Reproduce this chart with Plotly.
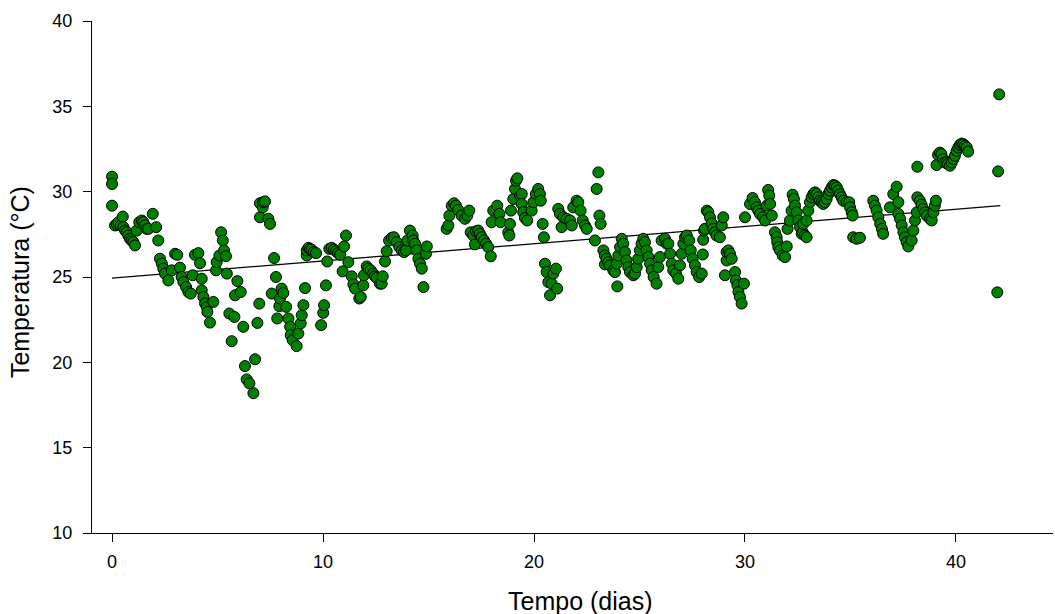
import plotly.graph_objects as go

# Data
dia = [
    0.00, 0.00, 0.00, 0.14, 0.22, 0.30, 0.41, 0.51, 0.54, 0.62, 0.70, 0.77, 0.85, 0.93, 1.01, 1.09,
    1.17, 1.29, 1.41, 1.48, 1.56, 1.64, 1.72, 1.93, 2.09, 2.19, 2.27, 2.36, 2.43, 2.51, 2.67, 2.83,
    2.99, 3.09, 3.22, 3.30, 3.38, 3.51, 3.62, 3.73, 3.82, 3.93, 4.09, 4.17, 4.25, 4.25, 4.33, 4.41,
    4.49, 4.52, 4.64, 4.80, 4.93, 4.96, 5.09, 5.17, 5.25, 5.31, 5.40, 5.44, 5.56, 5.67, 5.80, 5.83,
    5.94, 6.10, 6.22, 6.30, 6.38, 6.51, 6.70, 6.78, 6.89, 6.98, 7.01, 7.01, 7.14, 7.17, 7.25, 7.41,
    7.49, 7.57, 7.68, 7.77, 7.83, 7.93, 7.96, 8.04, 8.12, 8.25, 8.36, 8.44, 8.47, 8.56, 8.75, 8.83,
    8.94, 8.99, 9.07, 9.15, 9.23, 9.23, 9.31, 9.38, 9.46, 9.57, 9.67, 9.91, 10.01, 10.05, 10.14, 10.20,
    10.30, 10.41, 10.52, 10.62, 10.71, 10.81, 10.93, 11.00, 11.09, 11.20, 11.36, 11.44, 11.52, 11.72, 11.79, 11.91,
    11.94, 12.07, 12.15, 12.26, 12.38, 12.46, 12.54, 12.70, 12.78, 12.83, 12.94, 13.02, 13.13, 13.26, 13.36, 13.49,
    13.62, 13.73, 13.84, 13.93, 14.00, 14.12, 14.25, 14.28, 14.36, 14.44, 14.52, 14.60, 14.68, 14.76, 14.88, 14.92,
    15.86, 15.94, 15.99, 16.10, 16.21, 16.30, 16.41, 16.57, 16.73, 16.84, 16.93, 17.00, 17.12, 17.20, 17.25, 17.36,
    17.44, 17.52, 17.63, 17.73, 17.83, 17.95, 17.99, 18.07, 18.26, 18.36, 18.42, 18.78, 18.83, 18.86, 18.91, 19.02,
    19.10, 19.15, 19.21, 19.34, 19.42, 19.42, 19.49, 19.57, 19.68, 19.89, 19.97, 20.09, 20.20, 20.28, 20.32, 20.41,
    20.47, 20.52, 20.60, 20.68, 20.76, 20.84, 20.92, 21.04, 21.10, 21.15, 21.23, 21.31, 21.39, 21.55, 21.71, 21.79,
    21.86, 22.02, 22.10, 22.21, 22.31, 22.42, 22.50, 22.89, 22.97, 23.05, 23.10, 23.16, 23.29, 23.36, 23.36, 23.44,
    23.52, 23.60, 23.76, 23.84, 23.92, 23.95, 24.00, 24.08, 24.16, 24.23, 24.31, 24.39, 24.47, 24.55, 24.71, 24.79,
    24.87, 24.94, 25.02, 25.10, 25.18, 25.26, 25.34, 25.42, 25.50, 25.58, 25.67, 25.81, 25.89, 25.97, 26.05, 26.21,
    26.29, 26.37, 26.45, 26.53, 26.60, 26.73, 26.84, 26.92, 27.00, 27.08, 27.16, 27.24, 27.36, 27.43, 27.52, 27.63,
    27.71, 27.83, 27.95, 28.00, 28.02, 28.06, 28.10, 28.19, 28.26, 28.34, 28.42, 28.50, 28.58, 28.65, 28.81, 28.90,
    28.97, 29.05, 29.13, 29.13, 29.21, 29.29, 29.37, 29.53, 29.57, 29.64, 29.69, 29.76, 29.84, 29.95, 30.00, 30.24,
    30.36, 30.47, 30.55, 30.63, 30.71, 30.86, 30.95, 31.03, 31.10, 31.15, 31.19, 31.27, 31.42, 31.50, 31.53, 31.58,
    31.66, 31.79, 31.90, 31.98, 32.02, 32.13, 32.21, 32.26, 32.32, 32.37, 32.45, 32.53, 32.61, 32.69, 32.74, 32.76,
    32.84, 32.92, 32.92, 33.00, 33.08, 33.16, 33.24, 33.32, 33.40, 33.47, 33.55, 33.63, 33.71, 33.79, 33.87, 33.95,
    34.03, 34.11, 34.19, 34.27, 34.35, 34.42, 34.50, 34.58, 34.66, 34.82, 34.94, 34.98, 35.06, 35.10, 35.13, 35.29,
    35.45, 36.08, 36.16, 36.24, 36.32, 36.41, 36.49, 36.55, 36.87, 37.03, 37.19, 37.27, 37.27, 37.35, 37.43, 37.51,
    37.58, 37.66, 37.74, 37.90, 37.98, 38.06, 38.14, 38.17, 38.17, 38.29, 38.37, 38.45, 38.53, 38.61, 38.77, 38.85,
    38.93, 39.00, 39.05, 39.08, 39.15, 39.24, 39.31, 39.39, 39.46, 39.56, 39.62, 39.72, 39.80, 39.88, 39.95, 40.03,
    40.11, 40.19, 40.27, 40.35, 40.43, 40.51, 40.58, 41.96, 42.00, 42.05,
]

temp = [
    30.88, 30.45, 29.18, 28.02, 28.11, 28.21, 28.02, 28.54, 27.92, 27.72, 27.62, 27.43, 27.24, 27.14, 27.04, 26.85,
    27.72, 28.21, 28.31, 28.21, 28.02, 27.82, 27.82, 28.70, 27.92, 27.14, 26.07, 25.78, 25.49, 25.20, 24.80, 25.39,
    26.36, 26.30, 25.55, 25.00, 24.70, 24.41, 24.12, 24.03, 25.10, 26.30, 26.40, 25.81, 24.90, 24.22, 23.83, 23.44,
    23.25, 22.95, 22.33, 23.54, 25.39, 25.87, 26.26, 27.62, 27.14, 26.56, 26.22, 25.20, 22.86, 21.24, 22.66, 23.93,
    24.76, 24.12, 22.08, 19.78, 19.00, 18.77, 18.19, 20.18, 22.31, 23.44, 28.50, 29.32, 29.08, 29.38, 29.43, 28.41,
    28.11, 24.03, 26.11, 25.00, 22.57, 23.29, 23.74, 24.32, 24.06, 23.25, 22.57, 22.08, 21.59, 21.30, 20.95, 21.69,
    22.28, 22.76, 23.35, 24.35, 26.26, 26.56, 26.71, 26.65, 26.60, 26.46, 26.40, 22.18, 22.90, 23.35, 24.51, 25.91,
    26.65, 26.71, 26.60, 26.51, 26.40, 26.30, 25.33, 26.79, 27.43, 25.87, 25.04, 24.57, 24.32, 23.74, 23.83, 24.51,
    25.10, 25.62, 25.49, 25.39, 25.20, 25.04, 24.94, 24.61, 24.61, 25.04, 25.91, 26.51, 27.14, 27.30, 27.33, 27.04,
    26.75, 26.56, 26.46, 26.56, 27.14, 27.72, 27.43, 27.14, 26.95, 26.56, 26.07, 25.78, 25.49, 24.41, 26.36, 26.79,
    27.82, 28.02, 28.60, 29.18, 29.32, 29.18, 28.93, 28.60, 28.41, 28.60, 28.89, 27.62, 27.43, 26.91, 27.68, 27.72,
    27.53, 27.33, 27.14, 26.95, 26.75, 26.21, 28.21, 28.89, 29.18, 28.70, 28.21, 27.62, 27.43, 28.11, 28.89, 29.57,
    30.16, 30.64, 30.78, 29.77, 29.86, 29.28, 28.80, 28.46, 28.31, 28.89, 29.38, 29.86, 30.16, 29.86, 29.47, 28.11,
    27.33, 25.78, 25.29, 24.70, 23.93, 24.61, 25.20, 25.49, 24.32, 28.99, 28.70, 27.92, 28.50, 28.41, 28.31, 28.02,
    29.08, 29.47, 29.38, 28.89, 28.31, 28.02, 27.82, 27.14, 30.16, 31.13, 28.60, 28.11, 26.56, 26.26, 25.74, 26.07,
    25.87, 25.68, 25.39, 25.29, 25.78, 24.45, 26.26, 26.75, 27.24, 26.95, 26.46, 25.97, 25.58, 25.29, 25.10, 25.20,
    25.58, 26.07, 26.56, 26.95, 27.24, 27.04, 26.56, 26.17, 25.78, 25.39, 25.00, 24.61, 25.58, 26.17, 27.14, 27.24,
    26.95, 26.95, 26.36, 25.78, 25.39, 25.20, 24.90, 25.68, 26.36, 26.95, 27.33, 27.43, 27.14, 26.56, 26.07, 25.68,
    25.29, 25.00, 25.20, 26.32, 27.18, 27.72, 27.82, 28.89, 28.80, 28.50, 28.15, 27.82, 27.62, 27.43, 27.33, 28.02,
    28.50, 25.10, 25.97, 26.46, 26.56, 26.36, 26.07, 25.29, 24.80, 24.51, 24.12, 23.83, 23.44, 24.61, 28.50, 29.28,
    29.63, 29.38, 29.08, 28.89, 28.70, 28.50, 28.31, 29.18, 30.10, 29.77, 29.28, 28.60, 27.62, 27.33, 27.04, 26.75,
    26.56, 26.26, 26.17, 26.79, 27.82, 28.31, 28.89, 29.82, 29.57, 29.18, 28.79, 28.31, 27.92, 27.53, 27.62, 28.11,
    27.43, 27.33, 28.31, 28.89, 29.38, 29.67, 29.86, 29.96, 29.86, 29.67, 29.47, 29.38, 29.28, 29.38, 29.57, 29.86,
    30.06, 30.25, 30.39, 30.35, 30.25, 30.06, 29.86, 29.67, 29.47, 29.38, 29.38, 29.08, 28.79, 28.60, 27.33, 27.24,
    27.30, 29.47, 29.18, 28.89, 28.50, 28.11, 27.82, 27.53, 29.08, 29.86, 30.29, 29.38, 28.70, 28.41, 28.02, 27.62,
    27.33, 27.04, 26.79, 27.14, 27.72, 28.31, 28.79, 29.67, 31.46, 29.47, 29.24, 28.99, 28.79, 28.60, 28.41, 28.31,
    28.79, 29.18, 29.47, 31.56, 32.16, 32.29, 32.20, 31.91, 31.71, 31.71, 31.62, 31.52, 31.71, 31.91, 32.10, 32.39,
    32.59, 32.74, 32.82, 32.78, 32.69, 32.59, 32.35, 24.10, 31.19, 35.70,
]

# Linear trend line (end points)
trend_x = [0.0, 42.1]
trend_y = [24.93, 29.18]

x_ticks = [0, 10, 20, 30, 40]
y_ticks = [10, 15, 20, 25, 30, 35, 40]

FONT = "Arial, Liberation Sans, sans-serif"

fig = go.Figure()
fig.add_trace(go.Scatter(
    x=trend_x, y=trend_y, mode="lines",
    line=dict(color="black", width=1.3), showlegend=False, hoverinfo="skip",
))
fig.add_trace(go.Scatter(
    x=dia, y=temp, mode="markers",
    marker=dict(size=11, color="#008000", line=dict(color="black", width=1)),
    showlegend=False,
))

axis_common = dict(
    showline=True, linecolor="black", linewidth=1,
    ticks="outside", ticklen=8, tickwidth=1, tickcolor="black",
    showgrid=False, zeroline=False,
    tickfont=dict(family=FONT, size=18, color="black"),
)

fig.update_layout(
    width=1055, height=614,
    margin=dict(l=92, r=2, t=21, b=81),
    paper_bgcolor="white", plot_bgcolor="white",
    xaxis=dict(range=[-0.95, 44.6], tickvals=x_ticks, ticktext=[str(v) for v in x_ticks],
               ticklabelstandoff=4, **axis_common),
    yaxis=dict(range=[10, 40], tickvals=y_ticks, ticktext=[str(v) for v in y_ticks],
               ticklabelstandoff=7, **axis_common),
    annotations=[
        dict(text="Tempo (dias)", xref="paper", yref="paper", x=0.508, y=0,
             xanchor="center", yanchor="top", yshift=-52, showarrow=False,
             font=dict(family=FONT, size=25, color="black")),
        dict(text="Temperatura (°C)", xref="paper", yref="paper", x=0, y=0.49,
             xanchor="center", yanchor="middle", xshift=-72, textangle=-90, showarrow=False,
             font=dict(family=FONT, size=25, color="black")),
    ],
)

fig.write_html("out.html")
